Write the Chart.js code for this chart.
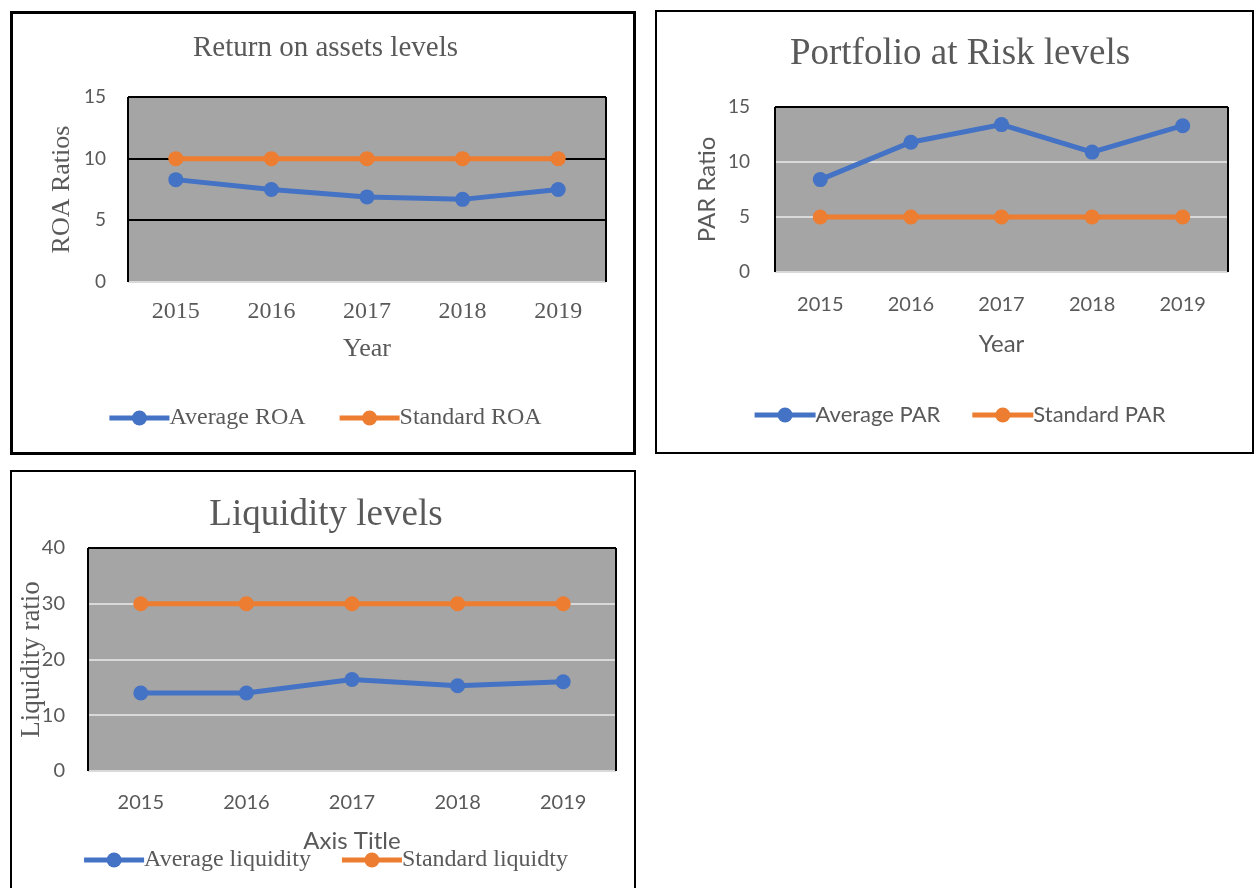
<!DOCTYPE html>
<html><head><meta charset="utf-8">
<script src="https://cdn.jsdelivr.net/npm/chart.js@4.4.1/dist/chart.umd.min.js"></script>
<style>
html,body{margin:0;padding:0;background:#fff;width:1254px;height:888px;overflow:hidden;}
.box{position:absolute;box-sizing:border-box;background:#fff;}
.box canvas{position:absolute;left:0;top:0;}
</style></head><body>
<div class="box" style="left:10px;top:11px;width:626px;height:444px;border:3px solid #000;"><canvas id="c1" width="620" height="438"></canvas></div>
<div class="box" style="left:655px;top:10px;width:599px;height:444px;border:2px solid #000;"><canvas id="c2" width="595" height="440"></canvas></div>
<div class="box" style="left:10px;top:470px;width:626px;height:420px;border:2px solid #000;"><canvas id="c3" width="622" height="416"></canvas></div>
<script>
// ---- data ----
const years = ['2015', '2016', '2017', '2018', '2019'];
const roaAverage = [8.3, 7.5, 6.9, 6.7, 7.5];
const roaStandard = [10, 10, 10, 10, 10];
const parAverage = [8.4, 11.8, 13.4, 10.9, 13.3];
const parStandard = [5, 5, 5, 5, 5];
const liqAverage = [14.0, 14.0, 16.4, 15.3, 16.0];
const liqStandard = [30, 30, 30, 30, 30];
const roaSeriesNames = ['Average ROA', 'Standard ROA'];
const parSeriesNames = ['Average PAR', 'Standard PAR'];
const liqSeriesNames = ['Average liquidity', 'Standard liquidty'];

// ---- style ----
const SERIF = "'Liberation Serif', 'Times New Roman', serif";
const SANS = "Lato, Carlito, 'Open Sans', sans-serif";
const TEXT = '#595959';
const BLUE = '#4472C4', ORANGE = '#ED7D31';
const PLOT_BG = '#a5a5a5';

const plotBg = {
  id: 'plotBg',
  beforeDraw(chart) {
    const a = chart.chartArea, c = chart.ctx;
    c.save();
    c.fillStyle = PLOT_BG;
    c.fillRect(a.left, a.top, a.right - a.left, a.bottom - a.top);
    c.restore();
  },
  beforeDatasetsDraw(chart) {
    const a = chart.chartArea, c = chart.ctx;
    c.save();
    c.strokeStyle = '#000';
    c.lineWidth = 2;
    c.beginPath();
    c.moveTo(a.left, a.top); c.lineTo(a.left, a.bottom);
    c.moveTo(a.right, a.top); c.lineTo(a.right, a.bottom);
    c.stroke();
    c.restore();
  }
};

const legendMarks = {
  id: 'legendMarks',
  afterDraw(chart) {
    const lg = chart.legend;
    if (!lg || !lg.legendHitBoxes) return;
    const o = lg.options.labels;
    const fs = o.font.size;
    const c = chart.ctx;
    lg.legendHitBoxes.forEach((hb, i) => {
      const col = chart.data.datasets[i].borderColor;
      const y = hb.top + hb.height / 2;
      const len = o.boxWidth + fs / 2;
      c.save();
      c.strokeStyle = col; c.lineWidth = 5; c.lineCap = 'butt';
      c.beginPath(); c.moveTo(hb.left, y); c.lineTo(hb.left + len, y); c.stroke();
      c.fillStyle = col;
      c.beginPath(); c.arc(hb.left + len / 2, y, 7.5, 0, Math.PI * 2); c.fill();
      c.restore();
    });
  }
};

function makeChart(id, o) {
  const mk = (label, data, color) => ({
    label, data, borderColor: color, backgroundColor: color,
    borderWidth: 5, pointRadius: 7.5, pointBorderWidth: 0,
    pointBackgroundColor: color, tension: 0
  });
  return new Chart(document.getElementById(id), {
    type: 'line',
    data: {
      labels: years,
      datasets: [mk(o.names[0], o.avg, BLUE), mk(o.names[1], o.std, ORANGE)]
    },
    options: {
      responsive: false, animation: false, devicePixelRatio: 1,
      layout: { padding: { left: o.padLeft, right: o.padRight, top: 0, bottom: o.padBottom } },
      plugins: {
        tooltip: { enabled: false },
        title: {
          display: true, text: o.title, color: TEXT,
          font: { family: SERIF, size: o.titleSize, weight: 'normal' },
          padding: { top: o.titlePadTop, bottom: o.titlePadBottom }
        },
        legend: {
          position: 'bottom',
          labels: {
            color: TEXT, font: { family: o.legendFamily, size: o.legendSize },
            boxWidth: o.legendBox, boxHeight: 4, padding: o.legendPad,
            generateLabels(chart) {
              return chart.data.datasets.map((d, i) => ({
                text: d.label, fillStyle: 'rgba(0,0,0,0)', strokeStyle: 'rgba(0,0,0,0)',
                lineWidth: 0, hidden: false, datasetIndex: i, fontColor: TEXT
              }));
            }
          }
        }
      },
      scales: {
        x: {
          offset: true,
          grid: { display: false }, border: { display: false },
          ticks: { color: TEXT, font: { family: o.xTickFamily, size: o.xTickSize }, padding: o.xTickPad, maxRotation: 0 },
          title: {
            display: true, text: o.xTitle, color: TEXT,
            font: { family: o.xTitleFamily, size: o.xTitleSize },
            padding: { top: 0, bottom: o.xTitlePadBottom }
          },
          afterFit(s) { s.height = o.xHeight; }
        },
        y: {
          min: o.yMin, max: o.yMax,
          border: { display: false },
          grid: {
            drawTicks: false, lineWidth: 2,
            color: (ctx) => {
              const v = ctx.tick.value;
              if (v === o.yMin) return '#d9d9d9';
              if (v === o.yMax) return '#000';
              return o.gridColor;
            }
          },
          ticks: { stepSize: o.yStep, color: TEXT, font: { family: SANS, size: o.yTickSize }, padding: o.yTickPad },
          title: {
            display: true, text: o.yTitle, color: TEXT,
            font: { family: o.yTitleFamily, size: o.yTitleSize },
            padding: { top: o.yTitlePadTop, bottom: 0 }
          },
          afterFit(s) { s.width = o.yWidth; }
        }
      }
    },
    plugins: [plotBg, legendMarks]
  });
}

makeChart('c1', {
  names: roaSeriesNames, avg: roaAverage, std: roaStandard,
  title: 'Return on assets levels', titleSize: 29, titlePadTop: 16.6, titlePadBottom: 31.6,
  padLeft: 32, padRight: 27, padBottom: 12,
  legendFamily: SERIF, legendSize: 24, legendBox: 48, legendPad: 34,
  xTickFamily: SERIF, xTickSize: 24, xTickPad: 7.6,
  xTitle: 'Year', xTitleFamily: SERIF, xTitleSize: 26, xTitlePadBottom: 7.4, xHeight: 90,
  yMin: 0, yMax: 15, yStep: 5, gridColor: '#000', yTickSize: 19, yTickPad: 22,
  yTitle: 'ROA Ratios', yTitleFamily: SERIF, yTitleSize: 26, yTitlePadTop: 1.4, yWidth: 83
});

makeChart('c2', {
  names: parSeriesNames, avg: parAverage, std: parStandard,
  title: 'Portfolio at Risk levels', titleSize: 37, titlePadTop: 19.8, titlePadBottom: 30.8,
  padLeft: 35, padRight: 24, padBottom: 16,
  legendFamily: SANS, legendSize: 22, legendBox: 50, legendPad: 32,
  xTickFamily: SANS, xTickSize: 20, xTickPad: 13,
  xTitle: 'Year', xTitleFamily: SANS, xTitleSize: 24, xTitlePadBottom: 13.6, xHeight: 100,
  yMin: 0, yMax: 15, yStep: 5, gridColor: '#d9d9d9', yTickSize: 19, yTickPad: 25,
  yTitle: 'PAR Ratio', yTitleFamily: SANS, yTitleSize: 24, yTitlePadTop: 0.6, yWidth: 83
});

makeChart('c3', {
  names: liqSeriesNames, avg: liqAverage, std: liqStandard,
  title: 'Liquidity levels', titleSize: 37, titlePadTop: 20.8, titlePadBottom: 10.8,
  padLeft: 24, padRight: 18, padBottom: 6,
  legendFamily: SERIF, legendSize: 24, legendBox: 48, legendPad: 31,
  xTickFamily: SANS, xTickSize: 20, xTickPad: 12,
  xTitle: 'Axis Title', xTitleFamily: SANS, xTitleSize: 24, xTitlePadBottom: -38.4, xHeight: 46,
  yMin: 0, yMax: 40, yStep: 10, gridColor: '#d9d9d9', yTickSize: 20, yTickPad: 23,
  yTitle: 'Liquidity ratio', yTitleFamily: SERIF, yTitleSize: 27, yTitlePadTop: -20.2, yWidth: 52
});
</script>
</body></html>
